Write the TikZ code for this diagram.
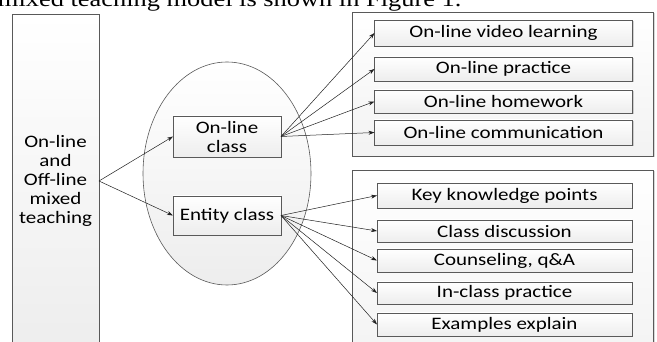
\documentclass[tikz,border=0pt]{standalone}
\usepackage{fontspec}
\setmainfont{Carlito}[FakeStretch=1.2]
\newfontfamily\paperfont{Liberation Serif}[FakeStretch=1.2]
\usetikzlibrary{arrows.meta,shapes.geometric,shadows}
\begin{document}
\begin{tikzpicture}[x=1pt,y=-1pt,
  every node/.style={inner sep=0pt,outer sep=0pt},
  boxst/.style={draw=gray!70!black,line width=0.6pt,rectangle,top color=white,bottom color=gray!14,
    drop shadow={shadow xshift=1.2pt,shadow yshift=-1.2pt,opacity=0.35,fill=gray}},
  contst/.style={draw=gray!70!black,line width=0.6pt,rectangle,top color=white,bottom color=gray!10,
    drop shadow={shadow xshift=1.5pt,shadow yshift=-1.5pt,opacity=0.3,fill=gray}},
  itemst/.style={boxst,minimum width=258pt,font=\fontsize{17.5}{19}\selectfont},
  arr/.style={draw=gray!25!black,line width=0.5pt,-{Stealth[length=6pt,width=4pt]}}
]
\useasboundingbox (0,0) rectangle (657,342);
\clip (0,0) rectangle (657,342);
\fill[white] (0,0) rectangle (657,342);
% cropped line of paper text
\node[anchor=base west,font=\paperfont\fontsize{22}{24}\selectfont] (papertext) at (-2,7) {mixed teaching model is shown in Figure 1.};
% left box
\node[boxst,minimum width=87pt,minimum height=334pt,align=center,font=\fontsize{17.5}{19}\selectfont] (mix) at (55.5,181)
  {On-line\\and\\Off-line\\mixed\\teaching};
% ellipse
\node[ellipse,draw=gray!70!black,line width=0.6pt,top color=white,bottom color=gray!14,minimum width=168pt,minimum height=223pt] (ell) at (227,173.5) {};
% class boxes
\node[boxst,minimum width=108pt,minimum height=41pt,align=center,font=\fontsize{17.5}{19}\selectfont] (online) at (227,136.5) {On-line\\class};
\node[boxst,minimum width=108pt,minimum height=39pt,font=\fontsize{17.5}{19}\selectfont] (entity) at (227,215.5) {Entity class};
% containers
\node[contst,minimum width=301pt,minimum height=144pt] (topc) at (502.5,84) {};
\node[contst,minimum width=301pt,minimum height=200pt] (botc) at (502.5,270) {};
% top items
\node[itemst,minimum height=26pt] (t1) at (503.5,33) {On-line video learning};
\node[itemst,minimum height=24pt] (t2) at (503.5,69) {On-line practice};
\node[itemst,minimum height=23pt] (t3) at (503.5,101.5) {On-line homework};
\node[itemst,minimum height=25pt] (t4) at (503.5,132.5) {On-line communication};
% bottom items
\node[itemst,minimum width=255pt,minimum height=25pt] (b1) at (504.5,195.5) {Key knowledge points};
\node[itemst,minimum width=255pt,minimum height=22pt] (b2) at (504.5,231) {Class discussion};
\node[itemst,minimum width=255pt,minimum height=23pt] (b3) at (504.5,260.5) {Counseling, q\&A};
\node[itemst,minimum width=255pt,minimum height=22pt] (b4) at (504.5,293) {In-class practice};
\node[itemst,minimum width=255pt,minimum height=23pt] (b5) at (504.5,324.5) {Examples explain};
% connectors
\draw[arr] (mix.east) -- (online.west);
\draw[arr] (mix.east) -- (entity.west);
\foreach \t in {t1,t2,t3,t4} \draw[arr] (online.east) -- (\t.west);
\foreach \b in {b1,b2,b3,b4,b5} \draw[arr] (entity.east) -- (\b.west);
\end{tikzpicture}
\end{document}
